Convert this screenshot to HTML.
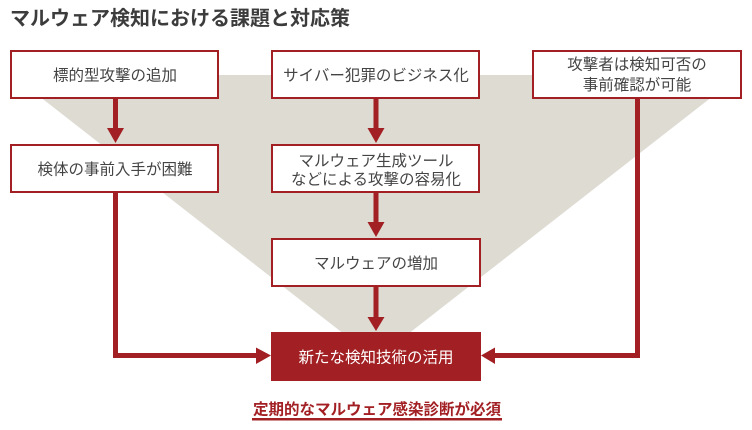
<!DOCTYPE html>
<html>
<head>
<meta charset="utf-8">
<style>
  html, body { margin: 0; padding: 0; background: #ffffff; }
  body { width: 752px; height: 430px; overflow: hidden; }
  svg { display: block; }
  text { font-family: "Liberation Sans", "Noto Sans CJK JP", sans-serif; }
</style>
</head>
<body>
<svg width="752" height="430" viewBox="0 0 752 430" xmlns="http://www.w3.org/2000/svg">
  <!-- Title -->
  <text x="10" y="25" font-size="20" font-weight="bold" fill="#3c3c3c">マルウェア検知における課題と対応策</text>

  <!-- Gray funnel -->
  <polygon points="12,75 740,75 376,359" fill="#dedbd3"/>

  <!-- Connectors -->
  <g fill="#a21f23">
    <!-- left column arrow B1 -> B2 -->
    <rect x="113" y="99" width="5" height="30"/>
    <polygon points="107,128 124,128 115.5,143"/>
    <!-- middle B3 -> B4 -->
    <rect x="373.5" y="99" width="5" height="30"/>
    <polygon points="367.5,128 384.5,128 376,143"/>
    <!-- middle B4 -> B5 -->
    <rect x="373.5" y="193" width="5" height="30"/>
    <polygon points="367.5,222 384.5,222 376,237"/>
    <!-- middle B5 -> B7 -->
    <rect x="373.5" y="287" width="5" height="31"/>
    <polygon points="367.5,317 384.5,317 376,331"/>
    <!-- left connector B2 -> B7 -->
    <rect x="113" y="193" width="5" height="165"/>
    <rect x="113" y="353" width="144" height="5"/>
    <polygon points="256,347.5 271,355.5 256,364"/>
    <!-- right connector B6 -> B7 -->
    <rect x="635" y="99" width="5" height="259"/>
    <rect x="494" y="353" width="146" height="5"/>
    <polygon points="495,347.5 481,355.5 495,364"/>
  </g>

  <!-- Boxes -->
  <g fill="#ffffff" stroke="#a21f23" stroke-width="2">
    <rect x="11" y="51" width="207" height="47"/>
    <rect x="11" y="145" width="207" height="47"/>
    <rect x="272" y="51" width="207" height="47"/>
    <rect x="272" y="145" width="207" height="47"/>
    <rect x="272" y="239" width="208" height="47"/>
    <rect x="533" y="51" width="208" height="47"/>
  </g>
  <rect x="271" y="332" width="210" height="49" fill="#a21f23"/>

  <!-- Box labels -->
  <g font-size="15.5" fill="#444444" text-anchor="middle">
    <text x="115" y="80.5">標的型攻撃の追加</text>
    <text x="115" y="174.5">検体の事前入手が困難</text>
    <text x="376" y="80.5">サイバー犯罪のビジネス化</text>
    <text x="376" y="166">マルウェア生成ツール</text>
    <text x="376" y="184.5">などによる攻撃の容易化</text>
    <text x="376" y="268.5">マルウェアの増加</text>
    <text x="637" y="69.5">攻撃者は検知可否の</text>
    <text x="637" y="90">事前確認が可能</text>
  </g>
  <text x="376" y="362.5" font-size="15.5" fill="#ffffff" text-anchor="middle">新たな検知技術の活用</text>

  <!-- Bottom conclusion -->
  <text x="377" y="414.5" font-size="15.5" font-weight="bold" fill="#a21f23" text-anchor="middle">定期的なマルウェア感染診断が必須</text>
  <rect x="252" y="418" width="250" height="2.5" fill="#a21f23"/>
</svg>
</body>
</html>
